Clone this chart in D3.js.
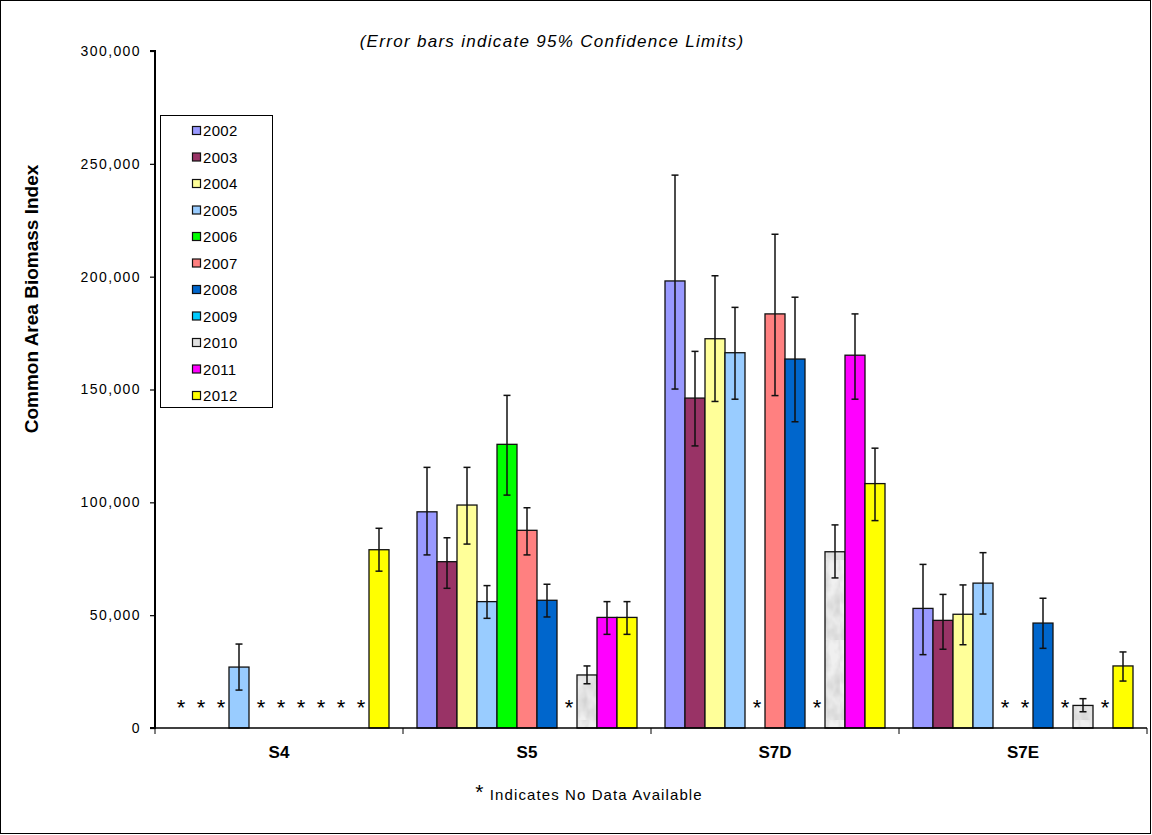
<!DOCTYPE html>
<html>
<head>
<meta charset="utf-8">
<script src="https://cdn.jsdelivr.net/npm/d3@7"></script>
<style>
  body { margin: 0; background: #fff; }
  svg { font-family: "Liberation Sans", Arial, sans-serif; }
</style>
</head>
<body>
<svg id="chart" width="1152" height="835"></svg>
<script>
// data (null = no data available)
var years = ["2002","2003","2004","2005","2006","2007","2008","2009","2010","2011","2012"];
var regions = ["S4","S5","S7D","S7E"];
var colors = ["#9999FF","#993366","#FFFF99","#99CCFF","#00FF00","#FF8080","#0066CC","#00CCFF","url(#marble)","#FF00FF","#FFFF00"];

var s4Values = [null,null,null,27000,null,null,null,null,null,null,79000];
var s4Low    = [null,null,null,16800,null,null,null,null,null,null,69500];
var s4High   = [null,null,null,37200,null,null,null,null,null,null,88500];

var s5Values = [95800,73700,98800,56000,125700,87600,56600,null,23500,49000,49000];
var s5Low    = [76700,61900,81500,48600,103200,76700,49200,null,19600,41500,41500];
var s5High   = [115500,84300,115500,63100,147400,97600,63700,null,27500,56000,56000];

var s7dValues = [198100,146200,172500,166300,null,183500,163500,null,78100,165200,108300];
var s7dLow    = [150200,125000,144700,145700,null,147300,135700,null,66500,145700,91900];
var s7dHigh   = [245000,166900,200400,186400,null,218800,190900,null,90000,183500,124000];

var s7eValues = [53000,47700,50400,64200,null,null,46500,null,10000,null,27500];
var s7eLow    = [32500,34900,36900,50500,null,null,35300,null,7200,null,20800];
var s7eHigh   = [72500,59200,63400,77700,null,null,57500,null,13000,null,33700];

var yTicks = [0,50000,100000,150000,200000,250000,300000];

var valueSets = [s4Values, s5Values, s7dValues, s7eValues];
var lowSets = [s4Low, s5Low, s7dLow, s7eLow];
var highSets = [s4High, s5High, s7dHigh, s7eHigh];

var rows = [];
regions.forEach(function(r, ri){
    years.forEach(function(yr, yi){
        rows.push({region: r, year: yr, yi: yi,
                   value: valueSets[ri][yi], low: lowSets[ri][yi], high: highSets[ri][yi]});
    });
});

var svg = d3.select("#chart");

// marble texture for 2010 bars
var defs = svg.append("defs");
var filt = defs.append("filter").attr("id","noise").attr("x",0).attr("y",0).attr("width","100%").attr("height","100%");
filt.append("feTurbulence").attr("type","fractalNoise").attr("baseFrequency","0.08 0.05")
    .attr("numOctaves",3).attr("seed",4).attr("result","t");
filt.append("feColorMatrix").attr("type","matrix")
    .attr("values","0 0 0 0 0.35  0 0 0 0 0.35  0 0 0 0 0.35  0 0 0 0.7 -0.22");
var pat = defs.append("pattern").attr("id","marble")
    .attr("patternUnits","userSpaceOnUse").attr("width",60).attr("height",80);
pat.append("rect").attr("width",60).attr("height",80).attr("fill","#f0f0f0");
pat.append("rect").attr("width",60).attr("height",80).attr("filter","url(#noise)");

// outer frame
svg.append("rect").attr("x",0.5).attr("y",0.5).attr("width",1150).attr("height",833)
    .attr("fill","none").attr("stroke","#000").attr("stroke-width",1);

var x0 = d3.scaleBand().domain(regions).range([155, 1147]);
var x1 = d3.scaleBand().domain(years).range([0, x0.bandwidth()]).paddingOuter(0.7);
var y = d3.scaleLinear().domain([0, 300000]).range([728, 51]);

// bars
var g = svg.append("g");
g.selectAll("rect.bar")
    .data(rows.filter(function(d){ return d.value !== null; }))
    .enter().append("rect")
    .attr("class","bar")
    .attr("x", function(d){ return x0(d.region) + x1(d.year); })
    .attr("y", function(d){ return y(d.value); })
    .attr("width", x1.bandwidth())
    .attr("height", function(d){ return y(0) - y(d.value); })
    .attr("fill", function(d){ return colors[d.yi]; })
    .attr("stroke","#111").attr("stroke-width",1.3);

// error bars
var eb = g.selectAll("g.err")
    .data(rows.filter(function(d){ return d.value !== null; }))
    .enter().append("g").attr("class","err")
    .attr("stroke","#111").attr("stroke-width",1.5);
eb.append("line")
    .attr("x1", function(d){ return x0(d.region) + x1(d.year) + x1.bandwidth()/2; })
    .attr("x2", function(d){ return x0(d.region) + x1(d.year) + x1.bandwidth()/2; })
    .attr("y1", function(d){ return y(d.high); })
    .attr("y2", function(d){ return y(d.low); });
[ "high", "low" ].forEach(function(k){
    eb.append("line")
        .attr("x1", function(d){ return x0(d.region) + x1(d.year) + x1.bandwidth()/2 - 3.5; })
        .attr("x2", function(d){ return x0(d.region) + x1(d.year) + x1.bandwidth()/2 + 3.5; })
        .attr("y1", function(d){ return y(d[k]); })
        .attr("y2", function(d){ return y(d[k]); });
});

// asterisks for missing data
g.selectAll("text.na")
    .data(rows.filter(function(d){ return d.value === null; }))
    .enter().append("text")
    .attr("class","na")
    .attr("x", function(d){ return x0(d.region) + x1(d.year) + x1.bandwidth()/2 + 2; })
    .attr("y", y(0) - 13)
    .attr("text-anchor","middle")
    .attr("font-size",22)
    .text("*");

// y axis
var yAxis = d3.axisLeft(y).tickValues(yTicks).tickFormat(d3.format(",")).tickSize(5).tickPadding(9);
var ya = svg.append("g").attr("transform","translate(155,0)").call(yAxis);
ya.select(".domain").attr("stroke-width",2).attr("d","M-5,51H0V728H-5");
ya.selectAll(".tick line").attr("stroke-width",1.2);
ya.selectAll(".tick text").attr("font-size",14).attr("font-family","Liberation Sans, Arial, sans-serif")
    .attr("fill","#000").style("letter-spacing","1.4px");

// x axis
var xa = svg.append("g").attr("transform","translate(0,728)");
xa.append("line").attr("x1",155).attr("x2",1147).attr("stroke","#000").attr("stroke-width",1.5);
xa.selectAll("line.tk").data(regions.concat(["end"])).enter().append("line")
    .attr("class","tk")
    .attr("x1", function(d){ return d === "end" ? 1147 : x0(d); })
    .attr("x2", function(d){ return d === "end" ? 1147 : x0(d); })
    .attr("y1",0).attr("y2",6).attr("stroke","#000").attr("stroke-width",1);
xa.selectAll("text").data(regions).enter().append("text")
    .attr("x", function(d){ return x0(d) + x0.bandwidth()/2; })
    .attr("y", 30)
    .attr("text-anchor","middle")
    .attr("font-size",17).attr("font-weight","bold")
    .text(function(d){ return d; });

// y label
svg.append("text")
    .attr("transform","translate(38,299) rotate(-90)")
    .attr("text-anchor","middle")
    .attr("font-family","Liberation Sans Narrow, Arial Narrow, Liberation Sans, sans-serif")
    .attr("font-size",19).attr("font-weight","bold")
    .text("Common Area Biomass Index");

// note at top
svg.append("text")
    .attr("x",552).attr("y",47)
    .attr("text-anchor","middle")
    .attr("font-size",17).attr("font-style","italic")
    .style("letter-spacing","1.3px")
    .text("(Error bars indicate 95% Confidence Limits)");

// footnote
var foot = svg.append("text").attr("x",589).attr("y",800).attr("text-anchor","middle")
    .attr("font-size",15).style("letter-spacing","1.1px");
foot.append("tspan").attr("font-size",21).attr("dy",-1).text("*");
foot.append("tspan").attr("dy",1).text(" Indicates No Data Available");

// legend
var leg = svg.append("g");
leg.append("rect").attr("x",160.5).attr("y",115.5).attr("width",112).attr("height",292)
    .attr("fill","#fff").attr("stroke","#000").attr("stroke-width",1);
var li = leg.selectAll("g.li").data(years).enter().append("g").attr("class","li")
    .attr("transform", function(d,i){ return "translate(0," + (131 + i*26.5) + ")"; });
li.append("rect").attr("x",192.5).attr("y",-4.5).attr("width",8).attr("height",8)
    .attr("fill", function(d,i){ return colors[i] === "url(#marble)" ? "#e0e0e0" : colors[i]; })
    .attr("stroke","#111").attr("stroke-width",1.2);
li.append("text").attr("x",203).attr("y",5).attr("font-size",15).style("letter-spacing","0.3px")
    .text(function(d){ return d; });
</script>
</body>
</html>
